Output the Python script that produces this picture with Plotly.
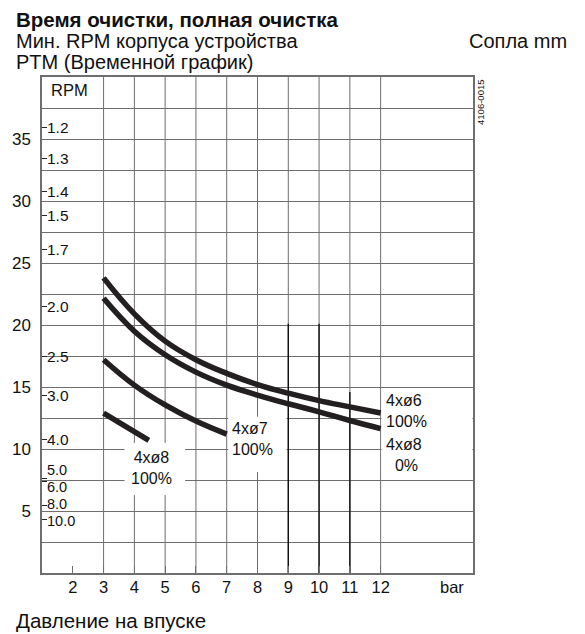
import plotly.graph_objects as go

# ---- data ----
p_x = [3, 4, 5, 6, 7, 8, 9, 10, 11, 12]
rpm_6_100 = [23.8, 20.9, 18.7, 17.2, 16.1, 15.2, 14.5, 13.9, 13.4, 12.9]
rpm_8_0 = [22.15, 19.5, 17.6, 16.2, 15.15, 14.35, 13.65, 13.0, 12.3, 11.65]
p7_x = [3, 4, 5, 6, 7]
rpm_7_100 = [17.2, 15.15, 13.55, 12.25, 11.2]
p8_x = [3, 4.47]
rpm_8_100 = [12.9, 10.7]

x_ticks = [2, 3, 4, 5, 6, 7, 8, 9, 10, 11, 12]
x_grid = [3, 4, 5, 6, 7, 8, 9, 10, 11, 12]
y_ticks = [5, 10, 15, 20, 25, 30, 35]

# secondary scale (time) labels and their RPM positions
sec_labels = ["1.2", "1.3", "1.4", "1.5", "1.7", "2.0", "2.5", "3.0", "4.0", "5.0", "6.0", "8.0", "10.0"]
sec_tick_rpm = [35.9, 33.4, 30.75, 28.8, 26.05, 21.5, 17.5, 14.35, 10.8, 7.6, 7.35, 5.48, 4.35]
sec_text_rpm = [35.9, 33.4, 30.75, 28.8, 26.05, 21.5, 17.5, 14.35, 10.8, 8.3, 6.9, 5.55, 4.2]

# darker vertical segments (x, top rpm)
dark_x = [9, 10, 11]
dark_top = [20.1, 20.1, 14.6]

INK = "#231f20"
GRID = "#6e6e6e"
FONT = "Liberation Sans, Arial, sans-serif"

fig = go.Figure()
for xs, ys in [(p_x, rpm_6_100), (p_x, rpm_8_0), (p7_x, rpm_7_100), (p8_x, rpm_8_100)]:
    fig.add_trace(go.Scatter(x=xs, y=ys, mode="lines", line=dict(color=INK, width=5.5, shape="spline", smoothing=1.2),
                             showlegend=False, hoverinfo="skip"))
fig.add_trace(go.Scatter(x=[None], y=[None], yaxis="y2", showlegend=False, hoverinfo="skip"))

shapes = []
for gx in x_grid:
    shapes.append(dict(type="line", xref="x", yref="y", x0=gx, x1=gx, y0=0, y1=40,
                       line=dict(color=GRID, width=1), layer="between"))
# white label boxes
for (x0, x1, y0, y1) in [(3.68, 5.65, 6.29, 10.48), (7.05, 8.94, 8.15, 12.6), (12.03, 14.98, 7.65, 14.85)]:
    shapes.append(dict(type="rect", xref="x", yref="y", x0=x0, x1=x1, y0=y0, y1=y1,
                       fillcolor="white", line=dict(width=0), layer="between"))
for dx, dt in zip(dark_x, dark_top):
    shapes.append(dict(type="line", xref="x", yref="y", x0=dx, x1=dx, y0=0, y1=dt,
                       line=dict(color="#111111", width=1.4), layer="between"))

ann = []
def A(text, x, y, xref="paper", yref="paper", xanchor="left", size=16, bold=False, **kw):
    ann.append(dict(text=("<b>%s</b>" % text) if bold else text, x=x, y=y, xref=xref, yref=yref,
                    xanchor=xanchor, yanchor="middle", showarrow=False, borderpad=0,
                    font=dict(family=FONT, size=size, color="#111111"), **kw))

def px2x(px):
    return (px - 39) / 434.0

def py2y(py):
    return (573 - py) / 496.0

A("Время очистки, полная очистка", px2x(12), py2y(19), size=20.5, bold=True)
A("Мин. RPM корпуса устройства", px2x(12), py2y(41), size=20)
A("Сопла mm", px2x(569), py2y(41), xanchor="right", size=20)
A("PTM (Временной график)", px2x(12), py2y(62), size=20)
A("Давление на впуске", px2x(12), py2y(620), size=20.5)
A("RPM", px2x(47), py2y(90), size=16.5)
A("4106-0015", px2x(480), py2y(102), xanchor="center", size=9.5, textangle=-90)
A("bar", px2x(452), py2y(587), xanchor="center", size=16.5)

for i, (lab, ty) in enumerate(zip(sec_labels, sec_text_rpm)):
    A(lab, 1.14, ty, xref="x", yref="y", size=15.5 if i < 9 else 14.5)

A("4xø8<br>100%", 4.55, 8.5, xref="x", yref="y", xanchor="center", size=16, align="center")
A("4xø7<br>100%", 7.15, 10.8, xref="x", yref="y", size=16, align="left")
A("4xø6<br>100%", 12.15, 13.1, xref="x", yref="y", size=16, align="left")
A("4xø8<br>&nbsp;&nbsp;0%", 12.15, 9.5, xref="x", yref="y", size=16, align="left")

fig.update_layout(
    width=585, height=634,
    margin=dict(l=39, r=112, t=77, b=61, pad=0),
    paper_bgcolor="white", plot_bgcolor="white",
    font=dict(family=FONT, size=16, color="#111111"),
    xaxis=dict(range=[1, 15], tickvals=x_ticks, ticktext=[str(v) for v in x_ticks],
               showgrid=False, zeroline=False, showline=True, linecolor=GRID, linewidth=1.5, mirror=True,
               ticks="inside", ticklen=7, tickcolor=GRID, tickfont=dict(size=16.5), ticklabelstandoff=-2),
    yaxis=dict(range=[0, 40], tickvals=y_ticks, showgrid=True, gridcolor=GRID, gridwidth=1,
               minor=dict(dtick=2.5, tick0=0, showgrid=True, gridcolor=GRID, gridwidth=1),
               zeroline=False, showline=True, linecolor=GRID, linewidth=1.5, mirror=True,
               ticks="", tickfont=dict(size=17), ticklabelstandoff=6),
    yaxis2=dict(range=[0, 40], overlaying="y", side="left", anchor="x", tickvals=sec_tick_rpm,
                ticks="inside", ticklen=5, tickcolor="#222222", tickwidth=1, showticklabels=False,
                showgrid=False, zeroline=False, showline=False),
    shapes=shapes, annotations=ann,
)

fig.write_html("out.html", config={"displayModeBar": False}, post_script="document.body.style.margin='0';")
